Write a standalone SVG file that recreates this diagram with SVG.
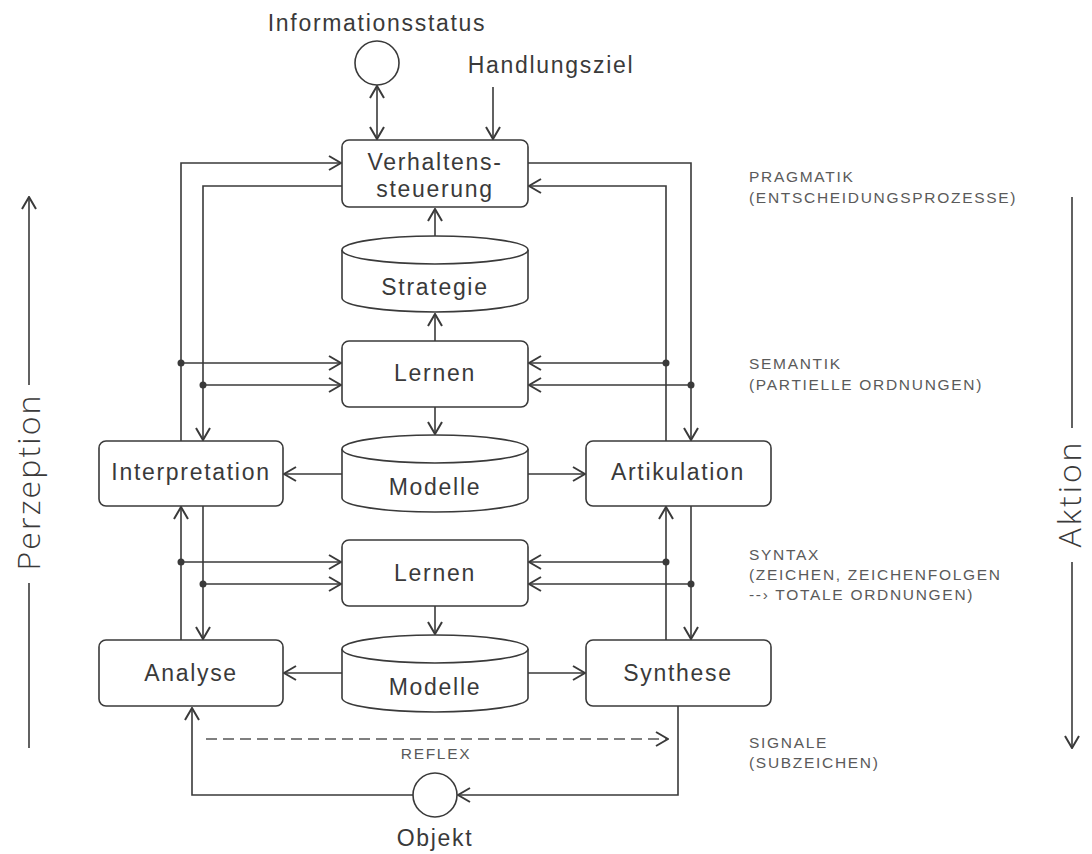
<svg xmlns="http://www.w3.org/2000/svg" width="1092" height="854" viewBox="0 0 1092 854">
<style>
  .box { fill: #fff; stroke: #3a3a3a; stroke-width: 1.6; }
  .cyl { fill: #fff; stroke: #3a3a3a; stroke-width: 1.6; }
  .lbl { font-family: "Liberation Sans", Arial, sans-serif; font-size: 23px; letter-spacing: 1.7px; fill: #3a3a3a; text-anchor: middle; }
  .side { font-family: "Liberation Sans", Arial, sans-serif; font-size: 15.5px; letter-spacing: 1.7px; fill: #5a5a5a; }
  .axis { font-family: "Open Sans", "Liberation Sans", sans-serif; font-weight: 300; font-size: 32px; fill: #3a3a3a; text-anchor: middle; }
  .con { fill: none; stroke: #3a3a3a; stroke-width: 1.6; }
  .dash { stroke-dasharray: 11 6; stroke: #555; }
  .dot { fill: #3a3a3a; }
</style>
<defs>
  <marker id="arr" viewBox="0 0 14 16" refX="13" refY="8" markerWidth="14" markerHeight="16" markerUnits="userSpaceOnUse" orient="auto-start-reverse">
    <path d="M1,1 L13,8 L1,15" fill="none" stroke="#3a3a3a" stroke-width="2" stroke-dasharray="none"/>
  </marker>
</defs>
<rect width="1092" height="854" fill="#fff"/>

<g id="connectors">
  <!-- top inputs -->
  <path class="con" d="M377,86 V139" marker-start="url(#arr)" marker-end="url(#arr)"/>
  <path class="con" d="M493,87 V139" marker-end="url(#arr)"/>
  <!-- Verhaltenssteuerung loops -->
  <path class="con" d="M181,441 V163 H341" marker-end="url(#arr)"/>
  <path class="con" d="M342,186 H203 V440" marker-end="url(#arr)"/>
  <path class="con" d="M528,163 H691 V440" marker-end="url(#arr)"/>
  <path class="con" d="M666,441 V186 H529" marker-end="url(#arr)"/>
  <!-- vertical center arrows -->
  <path class="con" d="M435,236 V209" marker-end="url(#arr)"/>
  <path class="con" d="M435,341 V314" marker-end="url(#arr)"/>
  <path class="con" d="M435,407 V434" marker-end="url(#arr)"/>
  <path class="con" d="M435,606 V634" marker-end="url(#arr)"/>
  <!-- Lernen 1 inputs -->
  <path class="con" d="M181,363 H341" marker-end="url(#arr)"/>
  <path class="con" d="M203,385 H341" marker-end="url(#arr)"/>
  <path class="con" d="M666,363 H529" marker-end="url(#arr)"/>
  <path class="con" d="M691,385 H529" marker-end="url(#arr)"/>
  <circle class="dot" cx="181" cy="363" r="3.5"/>
  <circle class="dot" cx="203" cy="385" r="3.5"/>
  <circle class="dot" cx="666" cy="363" r="3.5"/>
  <circle class="dot" cx="691" cy="385" r="3.5"/>
  <!-- Modelle 1 outputs -->
  <path class="con" d="M342,474 H284" marker-end="url(#arr)"/>
  <path class="con" d="M528,474 H585" marker-end="url(#arr)"/>
  <!-- middle verticals -->
  <path class="con" d="M181,640 V507" marker-end="url(#arr)"/>
  <path class="con" d="M203,506 V639" marker-end="url(#arr)"/>
  <path class="con" d="M666,640 V507" marker-end="url(#arr)"/>
  <path class="con" d="M691,506 V639" marker-end="url(#arr)"/>
  <!-- Lernen 2 inputs -->
  <path class="con" d="M181,562 H341" marker-end="url(#arr)"/>
  <path class="con" d="M203,584 H341" marker-end="url(#arr)"/>
  <path class="con" d="M666,562 H529" marker-end="url(#arr)"/>
  <path class="con" d="M691,584 H529" marker-end="url(#arr)"/>
  <circle class="dot" cx="181" cy="562" r="3.5"/>
  <circle class="dot" cx="203" cy="584" r="3.5"/>
  <circle class="dot" cx="666" cy="562" r="3.5"/>
  <circle class="dot" cx="691" cy="584" r="3.5"/>
  <!-- Modelle 2 outputs -->
  <path class="con" d="M342,673 H284" marker-end="url(#arr)"/>
  <path class="con" d="M528,673 H585" marker-end="url(#arr)"/>
  <!-- reflex -->
  <path class="con dash" d="M206,739 H668" marker-end="url(#arr)"/>
  <!-- object loop -->
  <path class="con" d="M678,706 V795 H458" marker-end="url(#arr)"/>
  <path class="con" d="M413,795 H192 V708" marker-end="url(#arr)"/>
  <!-- axes -->
  <path class="con" d="M29,748 V583"/>
  <path class="con" d="M29,385 V197" marker-end="url(#arr)"/>
  <path class="con" d="M1072,197 V428"/>
  <path class="con" d="M1072,562 V748" marker-end="url(#arr)"/>
</g>

<g id="informationsstatus">
  <text class="lbl" x="377" y="31">Informationsstatus</text>
  <circle class="box" cx="377" cy="63" r="22"/>
</g>
<g id="handlungsziel">
  <text class="lbl" x="551" y="73">Handlungsziel</text>
</g>

<g id="verhaltenssteuerung">
  <rect class="box" x="342" y="140" width="186" height="67" rx="7"/>
  <text class="lbl" x="435" y="170">Verhaltens-</text>
  <text class="lbl" x="435" y="197">steuerung</text>
</g>

<g id="strategie">
  <path class="cyl" d="M342,250 V298 A93,14 0 0 0 528,298 V250"/>
  <ellipse class="cyl" cx="435" cy="250" rx="93" ry="14"/>
  <text class="lbl" x="435" y="295">Strategie</text>
</g>

<g id="lernen1">
  <rect class="box" x="342" y="341" width="186" height="66" rx="7"/>
  <text class="lbl" x="435" y="381">Lernen</text>
</g>

<g id="modelle1">
  <path class="cyl" d="M342,449 V498 A93,14 0 0 0 528,498 V449"/>
  <ellipse class="cyl" cx="435" cy="449" rx="93" ry="14"/>
  <text class="lbl" x="435" y="495">Modelle</text>
</g>

<g id="interpretation">
  <rect class="box" x="99" y="441" width="184" height="65" rx="7"/>
  <text class="lbl" x="191" y="480">Interpretation</text>
</g>

<g id="artikulation">
  <rect class="box" x="586" y="441" width="185" height="65" rx="7"/>
  <text class="lbl" x="678" y="480">Artikulation</text>
</g>

<g id="lernen2">
  <rect class="box" x="342" y="540" width="186" height="66" rx="7"/>
  <text class="lbl" x="435" y="581">Lernen</text>
</g>

<g id="modelle2">
  <path class="cyl" d="M342,649 V698 A93,14 0 0 0 528,698 V649"/>
  <ellipse class="cyl" cx="435" cy="649" rx="93" ry="14"/>
  <text class="lbl" x="435" y="695">Modelle</text>
</g>

<g id="analyse">
  <rect class="box" x="99" y="640" width="184" height="66" rx="7"/>
  <text class="lbl" x="191" y="681">Analyse</text>
</g>

<g id="synthese">
  <rect class="box" x="586" y="640" width="185" height="66" rx="7"/>
  <text class="lbl" x="678" y="681">Synthese</text>
</g>

<g id="reflex">
  <text class="side" x="436" y="759" text-anchor="middle">REFLEX</text>
</g>

<g id="objekt">
  <circle class="box" cx="435" cy="795" r="22"/>
  <text class="lbl" x="435" y="846">Objekt</text>
</g>

<g id="level-labels">
  <text class="side" x="749" y="182">PRAGMATIK</text>
  <text class="side" x="749" y="203">(ENTSCHEIDUNGSPROZESSE)</text>
  <text class="side" x="749" y="369">SEMANTIK</text>
  <text class="side" x="749" y="390">(PARTIELLE ORDNUNGEN)</text>
  <text class="side" x="749" y="560">SYNTAX</text>
  <text class="side" x="749" y="580">(ZEICHEN, ZEICHENFOLGEN</text>
  <text class="side" x="749" y="600">--› TOTALE ORDNUNGEN)</text>
  <text class="side" x="749" y="748">SIGNALE</text>
  <text class="side" x="749" y="768">(SUBZEICHEN)</text>
</g>

<g id="perzeption">
  <text class="axis" transform="translate(40,483) rotate(-90)" textLength="175" lengthAdjust="spacing">Perzeption</text>
</g>
<g id="aktion">
  <text class="axis" transform="translate(1081,495) rotate(-90)" textLength="105" lengthAdjust="spacing">Aktion</text>
</g>
</svg>
